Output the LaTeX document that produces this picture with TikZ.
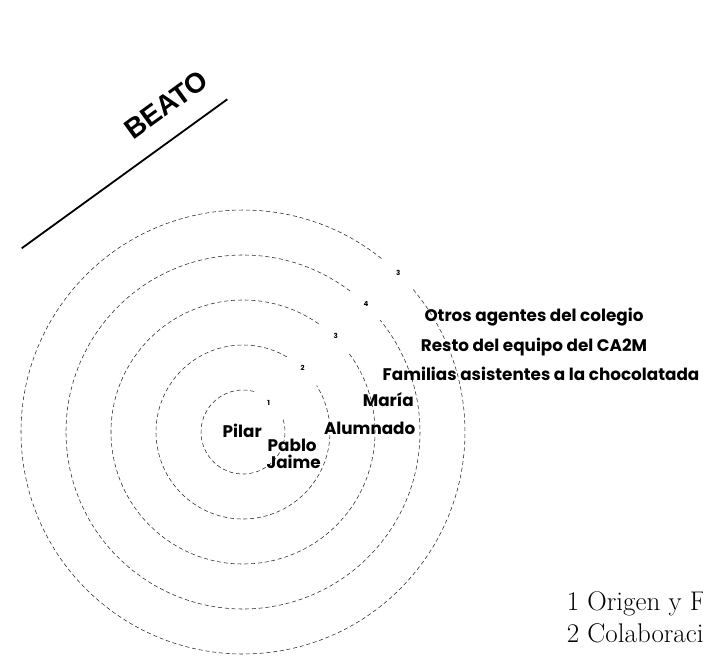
\documentclass[tikz,border=0pt]{standalone}
\usepackage{fontspec}
\newfontfamily\labfont{Poppins}
\newfontfamily\titlefont{Liberation Sans}
\begin{document}
\begin{tikzpicture}[x=1pt,y=-1pt,
  ring/.style={draw=black!85, line width=0.55pt, dash pattern=on 4pt off 2.8pt},
  lab/.style={font=\labfont\bfseries\fontsize{16.8}{20}\selectfont, inner sep=0pt, anchor=base},
  num/.style={font=\labfont\bfseries\fontsize{7}{8}\selectfont, inner sep=0pt},
  note/.style={font=\fontsize{27}{32}\selectfont, inner sep=0pt, anchor=base west}]
\useasboundingbox (0,0) rectangle (703,655);
\coordinate (c) at (243,432);
% rings with a gap where the number sits
\foreach \r/\g in {42/28.6, 87/13.8, 132/9.1, 177/6.8, 222/5.4}{
  \draw[ring] (c) ++(46+\g:\r pt) arc[start angle=46+\g, end angle=406-\g, radius=\r pt];
}
\node[num] (n1) at (268.7,402.7) {1};
\node[num] (n2) at (302.7,368.3) {2};
\node[num] (n3) at (335.7,336) {3};
\node[num] (n4) at (366,304.3) {4};
\node[num] (n5) at (398.3,272.7) {3};
% title
\coordinate (l1) at (21.7,248.3);
\coordinate (l2) at (227.3,99.3);
\draw[line width=1.8pt] (l1) -- (l2);
\node[font=\titlefont\bfseries\fontsize{28}{32}\selectfont, rotate=36, inner sep=0pt] (beato) at (166,105) {BEATO};
% labels
\node[lab] (otros) at (534,321) {Otros agentes del colegio};
\node[lab] (resto) at (534,351.5) {Resto del equipo del CA2M};
\node[lab] (fam) at (541,380.5) {Familias asistentes a la chocolatada};
\node[lab] (maria) at (388.3,406.7) {María};
\node[lab] (alum) at (369.7,434) {Alumnado};
\node[lab] (pilar) at (242.2,437.3) {Pilar};
\node[lab] (pablo) at (292.2,451.7) {Pablo};
\node[lab] (jaime) at (293.7,468.3) {Jaime};
% notes
\node[note] (t1) at (566.7,610.7) {1 Origen y F};
\node[note] (t2) at (566.7,642.7) {2 Colaboraci};
\end{tikzpicture}
\end{document}
